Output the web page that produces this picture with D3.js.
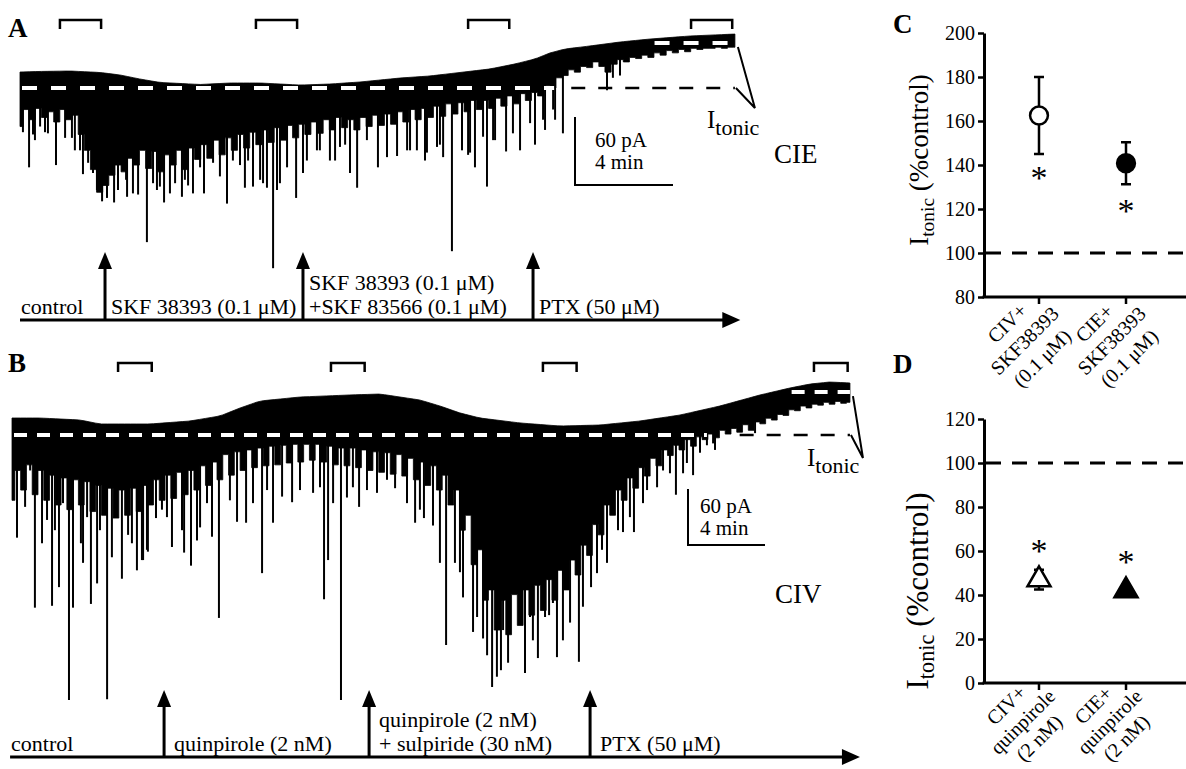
<!DOCTYPE html>
<html>
<head>
<meta charset="utf-8">
<script src="https://cdn.jsdelivr.net/npm/d3@7"></script>
<style>
  body { margin: 0; background: #fff; }
  svg { display: block; }
</style>
</head>
<body>
<script>
// ---------------- trace A (CIE neuron) : time in min, current in pA (0 = control holding) ----------------
var topA_t = [0, 0.82, 2.04, 3.27, 4.08, 4.90, 5.71, 7.35, 8.57, 9.80, 11.43, 12.65, 13.88, 15.51, 16.73,
              17.96, 19.18, 20.2, 21.02, 21.63, 22.24, 23.27, 24.49, 25.71, 27.35, 29.18];
var topA_v = [14.1, 14.6, 15.0, 13.7, 11.5, 7.9, 4.9, 3.1, 4.4, 4.4, 2.6, 3.5, 5.3, 8.8, 10.6,
              13.7, 16.8, 21.2, 25.6, 30.9, 34.4, 37.1, 40.6, 43.2, 45.9, 47.6];
var stepA = 0.25; // min between body samples
var bodyA = [-34,-19,-28,-18,-26,-21,-30,-19,-28,-24,
  -41,-55,-72,-92,-86,-77,-68,-74,-62,-68,
  -55,-71,-56,-74,-59,-68,-55,-72,-53,-63,
  -50,-62,-46,-59,-44,-55,-41,-53,-39,-50,
  -37,-48,-35,-46,-33,-44,-32,-41,-30,-40,
  -28,-37,-26,-35,-28,-37,-26,-34,-24,-33,
  -23,-32,-21,-30,-19,-28,-18,-26,-16,-25,
  -14,-23,-13,-21,-11,-19,-11,-18,-9,-16,
  -7,-14,-5,-11,-4,-7,2,0,9,11,
  16,14,19,18,23,19,14,21,25,23,
  27,26,29,27,31,29,33,31,34,32,
  35,34,35,35,36,35,36];
var spikesA = [[0.12,-39],[0.37,-70],[0.53,-41],[0.61,-46],[0.82,-34],[1.02,-39],[1.14,-40],[1.47,-68],
  [1.84,-44],[2.12,-44],[2.24,-55],[2.45,-55],[2.57,-76],[2.78,-66],[2.98,-75],[3.14,-90],[3.35,-100],
  [3.55,-97],[3.84,-101],[4.0,-90],[4.33,-81],[4.37,-96],[4.61,-93],[4.82,-94],[5.18,-136],[5.43,-84],
  [5.59,-90],[5.71,-87],[5.88,-101],[6.12,-93],[6.33,-84],[6.61,-96],[6.73,-81],[6.86,-86],[7.06,-93],
  [7.35,-70],[7.51,-93],[7.88,-66],[8.16,-78],[8.45,-102],[8.69,-64],[8.98,-68],[9.18,-88],[9.31,-64],
  [9.51,-87],[9.8,-81],[9.92,-84],[10.08,-88],[10.33,-159],[10.49,-90],[10.61,-84],[10.9,-70],
  [11.27,-97],[11.55,-75],[11.71,-64],[12.12,-55],[12.24,-55],[12.65,-64],[12.86,-64],[13.06,-52],
  [13.27,-50],[13.47,-75],[13.76,-88],[14.16,-46],[14.61,-70],[14.98,-61],[15.39,-60],[15.8,-55],
  [15.92,-55],[16.2,-55],[16.53,-64],[16.61,-57],[17.02,-52],[17.14,-50],[17.27,-61],[17.63,-144],
  [18.04,-55],[18.29,-59],[18.37,-57],[18.57,-70],[18.9,-43],[19.06,-87],[19.31,-46],[19.39,-46],
  [19.84,-56],[20.12,-40],[20.41,-55],[20.82,-31],[21.02,-50],[21.35,-28],[21.43,-37],[21.76,-19],
  [21.84,-28],[22.16,-40],[23.96,-2],[24.2,9],[24.49,11]];
var windowsA = [1.63, 9.63, 18.29, 27.39];
var drugTimesA = [3.47, 11.55, 20.94];
var drugLabelsA = [["SKF 38393 (0.1 \u03bcM)"], ["SKF 38393 (0.1 \u03bcM)", "+SKF 83566 (0.1 \u03bcM)"], ["PTX (50 \u03bcM)"]];
var ptxA = 39.7;

// ---------------- trace B (CIV neuron) ----------------
var topB_t = [0, 1.45, 3.53, 4.57, 7.17, 9.25, 10.81, 11.84, 12.88, 14.96, 17.56, 19.12, 21.19, 22.23,
              23.27, 24.31, 26.39, 28.47, 30.55, 32.62, 34.70, 36.78, 38.86, 40.42, 41.45, 42.49, 43.53];
var topB_v = [18.2, 18.2, 16.1, 11.8, 11.8, 15.0, 20.4, 28.9, 36.4, 40.7, 42.9, 43.9, 37.5, 31.1,
              23.6, 18.2, 12.9, 9.6, 10.7, 15.0, 21.4, 31.1, 42.9, 50.4, 54.6, 56.8, 55.7];
var stepB = 0.3;
var bodyB = [-70,-38,-59,-32,-64,-38,-70,-43,-75,-46,
  -80,-48,-75,-50,-82,-54,-86,-57,-89,-59,
  -86,-57,-82,-54,-75,-48,-70,-43,-68,-40,
  -64,-38,-59,-33,-54,-29,-48,-21,-43,-18,
  -38,-16,-35,-14,-33,-12,-32,-11,-30,-10,
  -29,-10,-27,-10,-29,-12,-32,-14,-33,-14,
  -35,-16,-38,-18,-40,-19,-42,-21,-44,-25,
  -48,-29,-54,-33,-59,-43,-75,-59,-102,-86,
  -139,-123,-177,-166,-209,-177,-214,-171,-204,-166,
  -193,-161,-188,-155,-177,-145,-166,-134,-150,-118,
  -129,-96,-107,-75,-86,-59,-70,-46,-57,-35,
  -44,-25,-33,-16,-22,-11,-16,-5,-12,-2,
  -5,1,-3,5,1,7,3,11,5,14,
  12,18,16,22,21,27,26,31,29,33,
  32,35,33,36,34,35];
var spikesB = [[0.26,-110],[0.52,-59],[0.68,-77],[0.94,-38],[1.19,-185],[1.56,-116],[1.82,-91],[2.08,-183],
  [2.23,-102],[2.44,-163],[2.65,-73],[2.96,-284],[3.17,-185],[3.58,-116],[3.69,-137],[3.9,-88],
  [4.10,-181],[4.42,-159],[4.57,-102],[4.94,-283],[5.19,-131],[5.45,-88],[5.71,-154],[6.03,-107],
  [6.23,-116],[6.49,-145],[6.75,-134],[6.81,-134],[7.01,-123],[7.06,-125],[7.48,-89],[7.79,-80],
  [8.05,-88],[8.31,-120],[8.83,-102],[8.94,-126],[9.30,-140],[9.61,-113],[9.77,-99],[10.13,-73],
  [10.39,-109],[10.75,-196],[11.32,-70],[11.69,-93],[12.16,-94],[12.52,-73],[12.99,-148],[13.25,-59],
  [13.56,-94],[14.03,-66],[14.55,-72],[14.96,-59],[15.64,-62],[16.0,-56],[16.21,-176],[16.42,-134],
  [16.68,-73],[17.09,-284],[17.40,-67],[17.71,-56],[18.03,-77],[18.44,-59],[18.96,-62],[19.48,-48],
  [19.90,-57],[20.52,-73],[20.94,-94],[21.19,-80],[21.40,-89],[21.87,-97],[22.23,-137],[22.55,-225],
  [23.01,-137],[23.27,-147],[23.43,-174],[23.95,-211],[24.16,-195],[24.47,-218],[24.68,-236],
  [24.94,-270],[25.19,-259],[25.40,-252],[25.51,-209],[25.77,-244],[26.18,-145],[26.39,-184],
  [26.65,-255],[26.91,-195],[27.06,-220],[27.32,-239],[27.69,-195],[27.90,-193],[28.1,-180],
  [28.31,-238],[28.62,-220],[28.83,-166],[28.99,-201],[29.45,-243],[29.66,-184],[30.08,-163],
  [30.39,-148],[30.65,-123],[30.91,-137],[31.22,-84],[31.48,-102],[31.74,-104],[32.1,-88],
  [32.31,-104],[32.78,-73],[32.99,-59],[33.51,-56],[33.82,-38],[34.18,-41],[34.49,-64],[34.86,-41],
  [35.06,-30],[35.38,-43],[35.74,-19],[36.10,-11],[36.42,-9],[36.52,-16],[38.60,2]];
var windowsB = [5.51, 16.57, 27.58, 41.66];
var drugTimesB = [7.9, 18.55, 30.03];
var drugLabelsB = [["quinpirole (2 nM)"], ["quinpirole (2 nM)", "+ sulpiride (30 nM)"], ["PTX (50 \u03bcM)"]];
var ptxB = 46;

// ---------------- summary panels C / D (I_tonic, % of control) ----------------
var groupsC = ["CIV+SKF38393", "CIE+SKF38393"];
var tickLinesC = [["CIV+", "SKF38393", "(0.1 \u03bcM)"], ["CIE+", "SKF38393", "(0.1 \u03bcM)"]];
var meanC = [162.5, 140.8];
var semC = [17.5, 9.5];
var starC = [136, 121];
var yTicksC = [80, 100, 120, 140, 160, 180, 200];

var groupsD = ["CIV+quinpirole", "CIE+quinpirole"];
var tickLinesD = [["CIV+", "quinpirole", "(2 nM)"], ["CIE+", "quinpirole", "(2 nM)"]];
var meanD = [47, 42];
var semD = [4.5, 2];
var starD = [62, 57];
var yTicksD = [0, 20, 40, 60, 80, 100, 120];

var svg = d3.select("body").append("svg")
    .attr("width", 1186)
    .attr("height", 769)
    .style("font-family", "'Liberation Serif', 'Times New Roman', serif");

function hline(g, x1, x2, y, color, dash, w) {
    g.append("line")
        .attr("x1", x1).attr("x2", x2).attr("y1", y).attr("y2", y)
        .attr("stroke", color).attr("stroke-width", w)
        .attr("stroke-dasharray", dash);
}

function drawTrace(o) {
    var g = svg.append("g");
    var x = o.x, y = o.y;
    var tEnd = o.topT[o.topT.length - 1];
    var topAt = d3.scaleLinear().domain(o.topT).range(o.topV).clamp(true);

    // each body sample covers half a step either side: flat-bottomed teeth under a smooth top edge
    var pts = [];
    o.body.forEach(function (v, i) {
        var t = i * o.step;
        pts.push({ t: Math.max(0, t - o.step / 2), v: v });
        pts.push({ t: Math.min(tEnd, t + o.step / 2), v: v });
    });
    pts.push({ t: tEnd, v: o.body[o.body.length - 1] });

    var area = d3.area()
        .x(function (d) { return x(d.t); })
        .y0(function (d) { return y(d.v); })
        .y1(function (d) { return y(topAt(d.t)); });

    g.append("path").datum(pts).attr("d", area).attr("fill", "#000")
        .attr("stroke", "#000").attr("stroke-width", 0.8);

    g.selectAll(".spike").data(o.spikes).enter().append("line")
        .attr("class", "spike")
        .attr("x1", function (d) { return x(d[0]); })
        .attr("x2", function (d) { return x(d[0]); })
        .attr("y1", function (d) { return y(topAt(d[0])) + 4; })
        .attr("y2", function (d) { return y(d[1]); })
        .attr("stroke", "#000").attr("stroke-width", 2);

    // baselines
    hline(g, x(0) + 2, x(o.whiteEnd), y(0), "#fff", o.dashW, 4);
    hline(g, x(o.blackStart), x(tEnd), y(0), "#000", "14,13", 2.5);
    hline(g, x(o.ptxStart), x(tEnd), y(o.ptx), "#fff", o.dashW, 4);

    // I_tonic marker
    var tipX = x(tEnd) + o.tip[0], tipY = y(0) + o.tip[1];
    g.append("path")
        .attr("d", "M" + (x(tEnd) + 3) + "," + (y(o.ptx) + 4) + "L" + tipX + "," + tipY +
                   "L" + (x(tEnd) + 1) + "," + y(0))
        .attr("fill", "none").attr("stroke", "#000").attr("stroke-width", 2);
    var it = g.append("text").attr("x", o.itPos[0]).attr("y", o.itPos[1]).attr("font-size", 25);
    it.append("tspan").text("I");
    it.append("tspan").attr("dy", 7).attr("font-size", 22).text("tonic");

    // analysis windows
    g.selectAll(".win").data(o.windows).enter().append("path")
        .attr("d", function (d) {
            return "M" + x(d) + "," + (o.winY + 9) + "V" + o.winY + "H" + x(d + o.winLen) + "V" + (o.winY + 9);
        })
        .attr("fill", "none").attr("stroke", "#000").attr("stroke-width", 2.5);

    // scale bar 60 pA / 4 min
    var sb = o.bar;
    g.append("path")
        .attr("d", "M" + sb[0] + "," + (sb[1] - (y(0) - y(60))) + "V" + sb[1] + "H" + (sb[0] + x(4) - x(0)))
        .attr("fill", "none").attr("stroke", "#000").attr("stroke-width", 2);
    g.append("text").attr("x", sb[0] + o.barText[0]).attr("y", sb[1] + o.barText[1])
        .attr("font-size", 21).text("60 pA");
    g.append("text").attr("x", sb[0] + o.barText[0]).attr("y", sb[1] + o.barText[1] + 22)
        .attr("font-size", 21).text("4 min");

    g.append("text").attr("x", o.namePos[0]).attr("y", o.namePos[1])
        .attr("font-size", 27).text(o.name);
    g.append("text").attr("x", o.letterPos[0]).attr("y", o.letterPos[1])
        .attr("font-size", 27).attr("font-weight", "bold").text(o.letter);

    // drug application timeline
    var ly = o.lineY;
    g.append("line").attr("x1", x(o.lineT[0])).attr("x2", x(o.lineT[1]) - 12)
        .attr("y1", ly).attr("y2", ly).attr("stroke", "#000").attr("stroke-width", 3);
    g.append("path")
        .attr("d", "M" + x(o.lineT[1]) + "," + ly + "l-18,-8v16z").attr("fill", "#000");
    o.drugs.forEach(function (t) {
        g.append("line").attr("x1", x(t)).attr("x2", x(t)).attr("y1", ly).attr("y2", ly - o.arrowLen + 12)
            .attr("stroke", "#000").attr("stroke-width", 3);
        g.append("path").attr("d", "M" + x(t) + "," + (ly - o.arrowLen) + "l-7,17h14z").attr("fill", "#000");
    });
    g.append("text").attr("x", x(o.lineT[0]) + 1).attr("y", ly - 6).attr("font-size", 22).text("control");
    o.labels.forEach(function (lines, i) {
        var tx = g.append("text").attr("x", x(o.drugs[i]) + o.labelOff).attr("font-size", 22);
        lines.forEach(function (s, j) {
            tx.append("tspan").attr("x", x(o.drugs[i]) + o.labelOff)
                .attr("y", ly - 6 - (lines.length - 1 - j) * 24).text(s);
        });
    });
}

drawTrace({
    x: d3.scaleLinear().domain([0, 4]).range([20, 118]),
    y: d3.scaleLinear().domain([0, 60]).range([88, 20]),
    topT: topA_t, topV: topA_v, step: stepA, body: bodyA, spikes: spikesA,
    whiteEnd: 21.8, blackStart: 22.5, ptxStart: 25.9, ptx: ptxA, dashW: "15,14",
    tip: [20, 20], itPos: [707, 128],
    windows: windowsA, winLen: 1.68, winY: 20,
    bar: [575, 185], barText: [20, -38],
    name: "CIE", namePos: [774, 163], letter: "A", letterPos: [8, 37],
    lineY: 320, lineT: [0, 29.4], drugs: drugTimesA, arrowLen: 68, labels: drugLabelsA, labelOff: 6
});

drawTrace({
    x: d3.scaleLinear().domain([0, 4]).range([12, 89]),
    y: d3.scaleLinear().domain([0, 60]).range([435, 379]),
    topT: topB_t, topV: topB_v, step: stepB, body: bodyB, spikes: spikesB,
    whiteEnd: 36.1, blackStart: 37.8, ptxStart: 40.5, ptx: ptxB, dashW: "13,10",
    tip: [13, 23], itPos: [807, 466],
    windows: windowsB, winLen: 1.75, winY: 363,
    bar: [688, 545], barText: [12, -32],
    name: "CIV", namePos: [775, 603], letter: "B", letterPos: [8, 372],
    lineY: 757, lineT: [-0.1, 44.05], drugs: drugTimesB, arrowLen: 67, labels: drugLabelsB, labelOff: 10
});

// ---------------- summary plots ----------------
function drawSummary(o) {
    var g = svg.append("g");
    var y = d3.scaleLinear().domain(o.domain).range(o.range);
    var x = d3.scalePoint().domain(o.groups).range([984, 1181]).padding(0.632);
    var y0 = o.range[0];

    var ax = g.append("g").attr("transform", "translate(984,0)")
        .call(d3.axisLeft(y).tickValues(o.ticks).tickSize(6).tickSizeOuter(0).tickPadding(3));
    ax.attr("font-family", null).attr("font-size", 20);
    ax.select(".domain").attr("stroke-width", 3);
    ax.selectAll(".tick line").attr("stroke-width", 2.5);
    ax.selectAll(".tick text").attr("fill", "#000");

    g.append("line").attr("x1", 982.5).attr("x2", 1186).attr("y1", y0).attr("y2", y0)
        .attr("stroke", "#000").attr("stroke-width", 3);
    g.selectAll(".xt").data(o.groups).enter().append("line")
        .attr("x1", function (d) { return x(d); }).attr("x2", function (d) { return x(d); })
        .attr("y1", y0).attr("y2", y0 + 7).attr("stroke", "#000").attr("stroke-width", 2.5);

    hline(g, 986, 1186, y(100), "#000", "15,11", 3);

    o.groups.forEach(function (grp, i) {
        var cx = x(grp);
        // slanted category labels, one text per line, stacked along the slant
        o.tickLines[i].forEach(function (s, j) {
            var px = cx + o.labOff[0] + j * o.labStep, py = y0 + o.labOff[1] + j * o.labStep;
            g.append("text")
                .attr("transform", "translate(" + px + "," + py + ") rotate(-45)")
                .attr("text-anchor", "middle").attr("font-size", 20).text(s);
        });

        var lo = y(o.mean[i] - o.sem[i]), hi = y(o.mean[i] + o.sem[i]);
        g.append("path")
            .attr("d", "M" + (cx - 5) + "," + hi + "H" + (cx + 5) + "M" + cx + "," + hi + "V" + lo +
                       "M" + (cx - 5) + "," + lo + "H" + (cx + 5))
            .attr("fill", "none").attr("stroke", "#000").attr("stroke-width", 2.5);
        g.append("path")
            .attr("transform", "translate(" + cx + "," + y(o.mean[i]) + ")")
            .attr("d", d3.symbol().type(o.symbol).size(o.symbolSize)())
            .attr("fill", i === 0 ? "#fff" : "#000")
            .attr("stroke", "#000").attr("stroke-width", 2.5);
        g.append("text").attr("x", cx).attr("y", y(o.star[i]) + 15)
            .attr("text-anchor", "middle").attr("font-size", 34).text("*");
    });

    var yl = g.append("text")
        .attr("transform", "translate(" + o.labelX + "," + ((o.range[0] + o.range[1]) / 2 + o.labelDy) + ") rotate(-90)")
        .attr("text-anchor", "middle").attr("font-size", o.labelSize);
    yl.append("tspan").text("I");
    yl.append("tspan").attr("dy", 6).attr("font-size", o.labelSize * 0.72).text("tonic");
    yl.append("tspan").attr("dy", -6).text(" (%control)");

    g.append("text").attr("x", 893).attr("y", o.letterY).attr("font-size", 27)
        .attr("font-weight", "bold").text(o.letter);
}

drawSummary({
    domain: [80, 200], range: [297, 33], ticks: yTicksC, groups: groupsC, tickLines: tickLinesC,
    mean: meanC, sem: semC, star: starC, symbol: d3.symbolCircle, symbolSize: 250,
    labelX: 928, labelDy: -5, labelSize: 27, letter: "C", letterY: 33, labOff: [-27, 31], labStep: 17.5
});

drawSummary({
    domain: [0, 120], range: [683, 419], ticks: yTicksD, groups: groupsD, tickLines: tickLinesD,
    mean: meanD, sem: semD, star: starD, symbol: d3.symbolTriangle, symbolSize: 230,
    labelX: 928, labelDy: 40, labelSize: 31, letter: "D", letterY: 373, labOff: [-28, 27], labStep: 16.5
});
</script>
</body>
</html>
